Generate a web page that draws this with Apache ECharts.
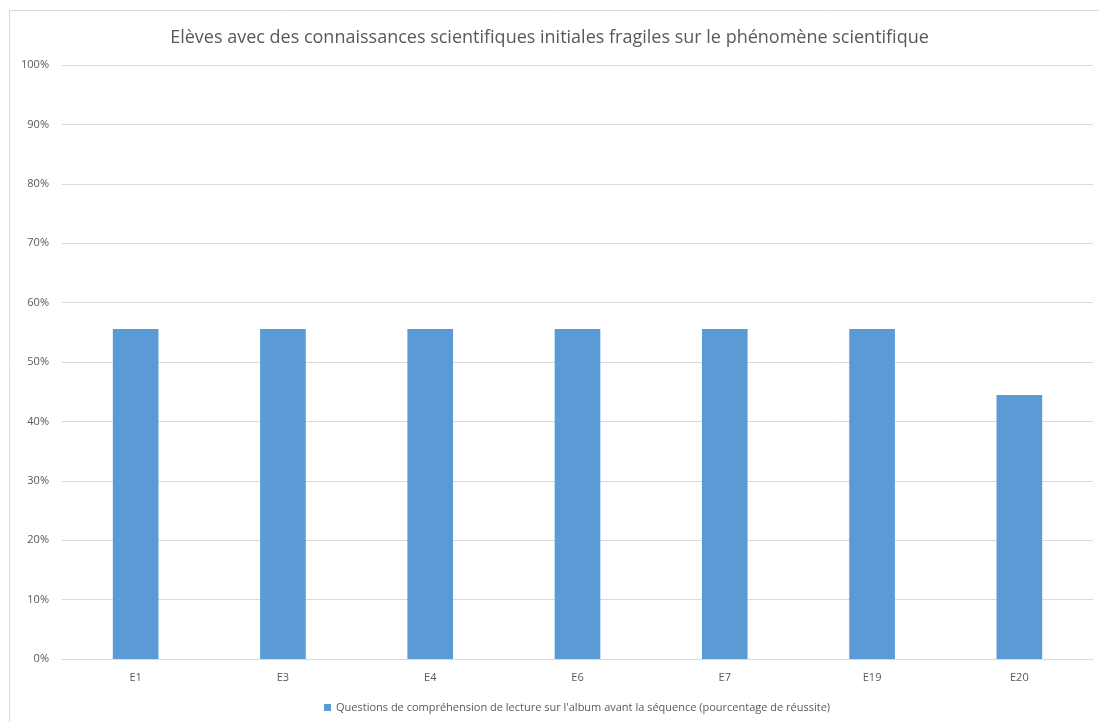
<!DOCTYPE html>
<html><head><meta charset="utf-8">
<script src="https://cdn.jsdelivr.net/npm/echarts@6/dist/echarts.min.js"></script>
<style>html,body{margin:0;padding:0;background:#fff}#c{width:1099px;height:722px}</style>
</head><body><div id="c"></div>
<script>
const titleText = "Elèves avec des connaissances scientifiques initiales fragiles sur le phénomène scientifique";
const categories = ["E1","E3","E4","E6","E7","E19","E20"];
const seriesName = "Questions de compréhension de lecture sur l'album avant la séquence (pourcentage de réussite)";
const values = [0.5556,0.5556,0.5556,0.5556,0.5556,0.5556,0.4444];
const yTicks = {min:0,max:1,interval:0.1};

const chart = echarts.init(document.getElementById('c'), null, {renderer:'canvas'});
const font = "'Open Sans', 'Liberation Sans', sans-serif";
chart.setOption({
  animation:false,
  textStyle:{fontFamily:font},
  graphic:[{type:'rect',shape:{x:9.5,y:10.5,width:1200,height:800},style:{fill:'none',stroke:'#d9d9d9',lineWidth:1},silent:true}],
  title:{text:titleText,left:'center',top:24,textStyle:{fontFamily:font,fontSize:18,fontWeight:'normal',color:'#595959'}},
  legend:{data:[seriesName],bottom:4,left:319,itemWidth:7,itemHeight:7,icon:'rect',itemGap:5,
    textStyle:{fontFamily:font,fontSize:11,color:'#595959'}},
  grid:{left:62,right:6,top:65,bottom:63,containLabel:false},
  xAxis:{type:'category',data:categories,
    axisLine:{lineStyle:{color:'#d9d9d9'}},axisTick:{show:false},
    axisLabel:{color:'#595959',fontSize:11,margin:13,fontFamily:font}},
  yAxis:{type:'value',min:yTicks.min,max:yTicks.max,interval:yTicks.interval,
    axisLine:{show:false},axisTick:{show:false},
    splitLine:{lineStyle:{color:'#d9d9d9'}},
    axisLabel:{color:'#595959',fontSize:11,margin:13,fontFamily:font,
      formatter:v=>Math.round(v*100)+'%'}},
  series:[{name:seriesName,type:'bar',data:values,barWidth:'31%',
    itemStyle:{color:'#5b9bd5'}}]
});
</script></body></html>
